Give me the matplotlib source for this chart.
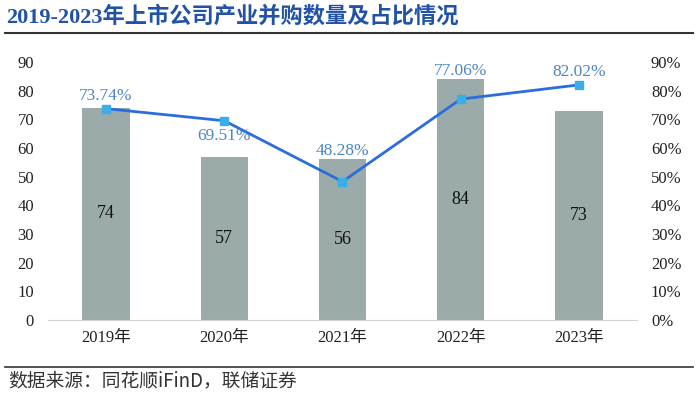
import numpy as np
import matplotlib
matplotlib.use("Agg")
from matplotlib import pyplot as plt
from matplotlib.ticker import FuncFormatter

plt.rcParams['font.family'] = ['Liberation Serif', 'Noto Sans CJK SC', 'DejaVu Sans']

years = ['2019年', '2020年', '2021年', '2022年', '2023年']
counts = [74, 57, 56, 84, 73]
ratios = [73.74, 69.51, 48.28, 77.06, 82.02]
# label offsets (points) for the percent labels
label_dy = [9, -11, 22, 20, 9]

bar_color = '#9AABAA'
line_color = '#2A6EDC'
marker_color = '#3AAEE8'
pct_color = '#4A86C8'

fig = plt.figure(figsize=(7, 3.93), dpi=100)
ax = fig.add_axes([48/700, (393-320)/393, (637-48)/700, (320-62)/393])
x = np.arange(len(years))
ax.bar(x, counts, width=0.4, color=bar_color, zorder=1)
ax.set_ylim(0, 90)
ax.set_xlim(-0.49, 4.49)
ax.set_yticks(range(0, 91, 10))
ax.set_xticks(x)
ax.set_xticklabels(years)
ax.tick_params(length=0, labelsize=12, colors='#222222')
ax.tick_params(axis='x', pad=7)
ax.tick_params(axis='y', pad=10)
for s in ['top', 'right', 'left']:
    ax.spines[s].set_visible(False)
ax.spines['bottom'].set_color('#D0D4D6')
for xi, c in zip(x, counts):
    ax.text(xi, c / 2, str(c), ha='center', va='center', fontsize=13, color='#111111')

ax2 = ax.twinx()
ax2.plot(x, ratios, color=line_color, lw=2, marker='s', ms=6,
         mfc=marker_color, mec=marker_color, zorder=3)
ax2.set_ylim(0, 90)
ax2.set_yticks(range(0, 91, 10))
ax2.yaxis.set_major_formatter(FuncFormatter(lambda v, p: f'{v:.0f}%'))
ax2.tick_params(length=0, labelsize=12, colors='#222222', pad=10)
for s in ['top', 'right', 'left', 'bottom']:
    ax2.spines[s].set_visible(False)
for xi, r, dy in zip(x, ratios, label_dy):
    ax2.annotate(f'{r:.2f}%', (xi, r), xytext=(0, dy),
                 textcoords='offset points', ha='center',
                 va='center', fontsize=12.5, color=pct_color)

# title and source
fig.text(6/700, 1 - 17/393, '2019-2023年上市公司产业并购数量及占比情况',
         fontsize=16, fontweight='bold', color='#2152A8', va='center', ha='left',
         family=['Liberation Serif', 'Noto Sans CJK SC'])
fig.add_artist(plt.Line2D([5/700, 693/700], [1 - 33/393] * 2, color='#333333', lw=1.5))
fig.add_artist(plt.Line2D([5/700, 693/700], [1 - 367/393] * 2, color='#333333', lw=1.2))
fig.text(8/700, 1 - 381/393, '数据来源：同花顺iFinD，联储证券', fontsize=13.5,
         color='#333333', va='center', ha='left',
         family=['Noto Sans CJK SC', 'DejaVu Sans'])

fig.savefig('out.png', dpi=100)
